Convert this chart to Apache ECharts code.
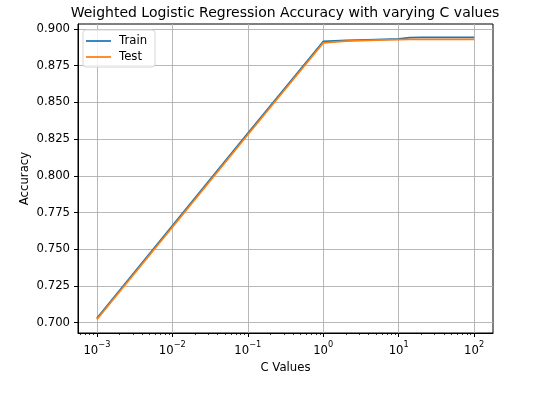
<!DOCTYPE html>
<html style="height: 100%">
<head>
    <meta charset="utf-8">
</head>
<body style="height: 100%; margin: 0; background: #fff">
<div id="container" style="height: 100%"></div>
<script src="https://cdn.jsdelivr.net/npm/echarts@6/dist/echarts.min.js"></script>
<script type="text/javascript">
    // values
    var cValues = [0.001, 0.01, 0.1, 1, 2, 5, 10, 14, 20, 50, 100];
    var trainAcc = [0.703, 0.766, 0.829, 0.8915, 0.8922, 0.8928, 0.8932, 0.8942, 0.8943, 0.8943, 0.8943];
    var testAcc = [0.7022, 0.765, 0.828, 0.8905, 0.8918, 0.8925, 0.8928, 0.8929, 0.8929, 0.8929, 0.8929];
    var xMajorTicks = [0.001, 0.01, 0.1, 1, 10, 100];
    var yTicks = [0.700, 0.725, 0.750, 0.775, 0.800, 0.825, 0.850, 0.875, 0.900];

    // minor ticks of the log axis: 2..9 times each decade
    var xMinorTicks = [];
    for (var e = -4; e <= 2; e++) {
        for (var k = 2; k <= 9; k++) {
            var v = k * Math.pow(10, e);
            if (v > Math.pow(10, -3.25) && v < Math.pow(10, 2.25)) xMinorTicks.push(v);
        }
    }

    function pairs(xs, ys) {
        var out = [];
        for (var i = 0; i < xs.length; i++) out.push([xs[i], ys[i]]);
        return out;
    }

    var font = 'DejaVu Sans';
    var dom = document.getElementById("container");
    var myChart = echarts.init(dom, null, {renderer: 'canvas'});

    var option = {
        animation: false,
        backgroundColor: '#fff',
        textStyle: {fontFamily: font},
        title: {
            text: 'Weighted Logistic Regression Accuracy with varying C values',
            left: 280,
            textAlign: 'center',
            top: 1,
            textStyle: {fontFamily: font, fontSize: 14, fontWeight: 'normal', color: '#000'}
        },
        legend: {
            orient: 'vertical',
            left: 83,
            top: 30,
            padding: [5, 8, 4, 3],
            icon: 'rect',
            itemWidth: 25,
            itemHeight: 1.75,
            itemGap: 4,
            backgroundColor: 'rgba(255,255,255,0.8)',
            borderColor: '#d6d6d6',
            borderWidth: 1,
            borderRadius: 3,
            textStyle: {fontFamily: font, fontSize: 11.7, color: '#000', padding: [0, 0, 0, 3], lineHeight: 12},
            data: ['Train', 'Test']
        },
        grid: {
            left: 78, right: 47, top: 24, bottom: 69,
            show: true,
            borderColor: '#000',
            borderWidth: 1,
            containLabel: false
        },
        xAxis: [{
            type: 'log',
            logBase: 10,
            min: Math.pow(10, -3.25),
            max: Math.pow(10, 2.25),
            name: 'C Values',
            nameLocation: 'middle',
            nameGap: 28,
            nameTextStyle: {fontFamily: font, fontSize: 11.7, color: '#000'},
            axisLine: {show: true, lineStyle: {color: '#000', width: 1}},
            axisTick: {show: true, length: 4, lineStyle: {color: '#000', width: 1}, customValues: xMajorTicks},
            axisLabel: {
                customValues: xMajorTicks,
                margin: 8,
                color: '#000',
                formatter: function (val) {
                    var p = Math.round(Math.log10(val));
                    return '{b|10}{s|' + String(p).replace('-', '\u2212') + '}';
                },
                rich: {
                    b: {fontFamily: font, fontSize: 11.7, color: '#000', lineHeight: 16, verticalAlign: 'bottom'},
                    s: {fontFamily: font, fontSize: 8.2, color: '#000', lineHeight: 16, verticalAlign: 'top', padding: [0, 0, 6, 0]}
                }
            },
            splitLine: {show: true, lineStyle: {color: '#b0b0b0', width: 0.9}}
        }, {
            type: 'log',
            logBase: 10,
            gridIndex: 0,
            position: 'bottom',
            min: Math.pow(10, -3.25),
            max: Math.pow(10, 2.25),
            axisLine: {show: false},
            axisTick: {show: true, length: 2, lineStyle: {color: '#000', width: 0.8}, customValues: xMinorTicks},
            axisLabel: {show: false, customValues: xMinorTicks},
            splitLine: {show: false}
        }],
        yAxis: {
            type: 'value',
            min: 0.693,
            max: 0.9034,
            name: 'Accuracy',
            nameLocation: 'middle',
            nameRotate: 90,
            nameGap: 47,
            nameMoveOverlap: false,
            nameTextStyle: {fontFamily: font, fontSize: 11.7, color: '#000'},
            axisLine: {show: true, lineStyle: {color: '#000', width: 1}},
            axisTick: {show: true, length: 4, lineStyle: {color: '#000', width: 1}, customValues: yTicks},
            axisLabel: {
                customValues: yTicks,
                margin: 8,
                fontFamily: font,
                fontSize: 11.7,
                color: '#000',
                formatter: function (v) { return v.toFixed(3); }
            },
            splitLine: {show: true, lineStyle: {color: '#b0b0b0', width: 0.9}}
        },
        series: [{
            name: 'Train',
            type: 'line',
            xAxisIndex: 0,
            symbol: 'none',
            color: '#1f77b4',
            lineStyle: {width: 1.75, color: '#1f77b4'},
            data: pairs(cValues, trainAcc)
        }, {
            name: 'Test',
            type: 'line',
            xAxisIndex: 0,
            symbol: 'none',
            color: '#ff7f0e',
            lineStyle: {width: 1.75, color: '#ff7f0e'},
            data: pairs(cValues, testAcc)
        }]
    };

    myChart.setOption(option);
</script>
</body>
</html>
